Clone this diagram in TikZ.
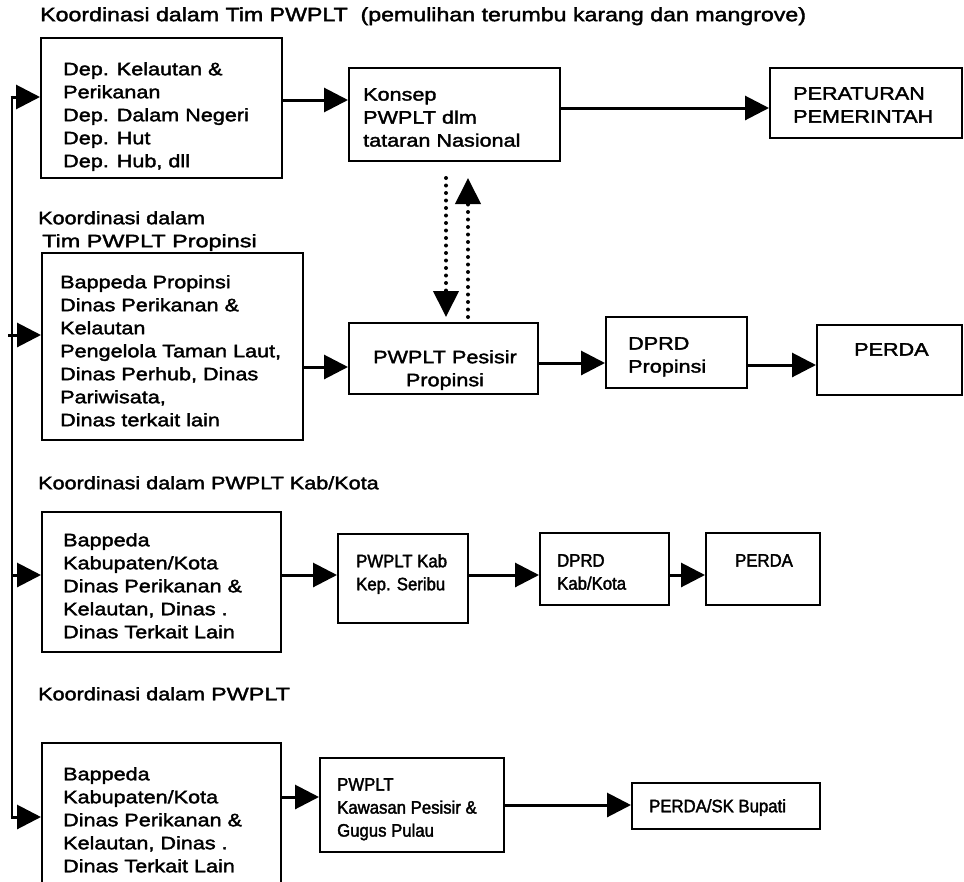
\documentclass[tikz,border=0pt]{standalone}
\usepackage{fontspec}
\newfontfamily\fA[FakeStretch=1.2,FakeBold=2]{Liberation Sans}
\newfontfamily\fB[FakeStretch=0.93,FakeBold=2]{Liberation Sans}
\newfontfamily\fC[FakeStretch=1.3,FakeBold=2]{Liberation Sans}
\usetikzlibrary{arrows.meta}
\tikzset{
  box/.style={draw, line width=2pt, inner sep=0pt, rectangle},
  txt/.style={anchor=north west, inner sep=0pt, align=left, font=\fA\fontsize{18}{23}\selectfont},
  ntxt/.style={anchor=north west, inner sep=0pt, align=left, font=\fB\fontsize{18}{23}\selectfont},
  ctxt/.style={anchor=north, inner sep=0pt, align=center, font=\fA\fontsize{18}{23}\selectfont},
  ttl/.style={anchor=north west, inner sep=0pt, align=left, font=\fA\fontsize{19.3}{24}\selectfont},
  arr/.style={line width=3pt, -{Triangle[length=24pt,width=24pt]}},
  spine/.style={line width=2.6pt},
  dotarr/.style={line width=4pt, line cap=round, dash pattern=on 0pt off 7.5pt, -{Triangle[length=26pt,width=25pt]}}
}
\begin{document}
\begin{tikzpicture}[x=1pt,y=-1pt]
\useasboundingbox (0,0) rectangle (964,881);
\clip (0,0) rectangle (964,881);
% boxes
\node[box, minimum width=241pt, minimum height=140pt] (b1) at (161.5,108) {};
\node[box, minimum width=211pt, minimum height=93pt] (konsep) at (454.5,114.5) {};
\node[box, minimum width=192pt, minimum height=70pt] (pp) at (866,103) {};
\node[box, minimum width=261pt, minimum height=187pt] (b2) at (172.5,346.5) {};
\node[box, minimum width=189pt, minimum height=71pt] (pes) at (443.5,358.5) {};
\node[box, minimum width=141pt, minimum height=71pt] (dprd1) at (676.5,352.5) {};
\node[box, minimum width=145pt, minimum height=70pt] (perda1) at (889.5,360) {};
\node[box, minimum width=239pt, minimum height=140pt] (b3) at (161.5,582) {};
\node[box, minimum width=130pt, minimum height=89pt] (kab) at (403,578.5) {};
\node[box, minimum width=129pt, minimum height=72pt] (dprd2) at (604.5,569) {};
\node[box, minimum width=114pt, minimum height=72pt] (perda2) at (763,569) {};
\node[box, minimum width=239pt, minimum height=162pt] (b4) at (161.5,824) {};
\node[box, minimum width=184pt, minimum height=94pt] (kaw) at (412,805) {};
\node[box, minimum width=188pt, minimum height=46pt] (sk) at (726,806) {};
% texts
\node[ttl] (title) at (40,7) {Koordinasi dalam Tim PWPLT\ \ (pemulihan terumbu karang dan mangrove)};
\node[txt] (t1) at (63,62) {Dep. Kelautan \&\\Perikanan\\Dep. Dalam Negeri\\Dep. Hut\\Dep. Hub, dll};
\node[txt] (tk) at (363,88) {Konsep\\PWPLT dlm\\tataran Nasional};
\node[txt] (tpp) at (793,87) {PERATURAN\\PEMERINTAH};
\node[txt] (h1) at (38,211) {Koordinasi dalam\\\hspace*{4pt}{\fC Tim PWPLT Propinsi}};
\node[txt] (t2) at (60,275) {Bappeda Propinsi\\Dinas Perikanan \&\\Kelautan\\Pengelola Taman Laut,\\Dinas Perhub, Dinas\\Pariwisata,\\Dinas terkait lain};
\node[ctxt] (tpes) at (445,350) {PWPLT Pesisir\\Propinsi};
\node[txt] (td1) at (628,337) {DPRD\\Propinsi};
\node[txt] (tpd1) at (854,343) {PERDA};
\node[txt] (h2) at (38,476) {Koordinasi dalam PWPLT Kab/Kota};
\node[txt] (t3) at (63,533) {Bappeda\\Kabupaten/Kota\\Dinas Perikanan \&\\Kelautan, Dinas .\\Dinas Terkait Lain};
\node[ntxt] (tkab) at (356,554) {PWPLT Kab\\Kep. Seribu};
\node[ntxt] (td2) at (557,554) {DPRD\\Kab/Kota};
\node[ntxt] (tpd2) at (735,554) {PERDA};
\node[txt] (h3) at (38,687) {Koordinasi dalam {\fC PWPLT}};
\node[txt] (t4) at (63,767) {Bappeda\\Kabupaten/Kota\\Dinas Perikanan \&\\Kelautan, Dinas .\\Dinas Terkait Lain};
\node[ntxt] (tkaw) at (337,778) {PWPLT\\Kawasan Pesisir \&\\Gugus Pulau};
\node[ntxt] (tsk) at (649,799) {PERDA/SK Bupati};
% spine
\coordinate (s1) at (12,97);
\coordinate (s2) at (12,335);
\coordinate (s3) at (12,575);
\coordinate (s4) at (12,817);
\draw[spine] ([yshift=1.3pt]s1) -- ([yshift=-1.3pt]s4);
\draw[arr] ([xshift=-1.3pt]s1) -- (s1 -| b1.west);
\draw[arr] ([xshift=-4pt]s2) -- (s2 -| b2.west);
\draw[arr] (s3) -- (s3 -| b3.west);
\draw[arr] ([xshift=-1.3pt]s4) -- (s4 -| b4.west);
% flow arrows
\draw[arr] (b1.east |- 0,100) -- (konsep.west |- 0,100);
\draw[arr] (konsep.east |- 0,108) -- (pp.west |- 0,108);
\draw[arr] (b2.east |- 0,367) -- (pes.west |- 0,367);
\draw[arr] (pes.east |- 0,363) -- (dprd1.west |- 0,363);
\draw[arr] (dprd1.east |- 0,365) -- (perda1.west |- 0,365);
\draw[arr] (b3.east |- 0,575) -- (kab.west |- 0,575);
\draw[arr] (kab.east |- 0,575) -- (dprd2.west |- 0,575);
\draw[arr] (dprd2.east |- 0,575) -- (perda2.west |- 0,575);
\draw[arr] (b4.east |- 0,797) -- (kaw.west |- 0,797);
\draw[arr] (kaw.east |- 0,805) -- (sk.west |- 0,805);
% dotted arrows
\coordinate (d1a) at (446,178);
\coordinate (d1b) at (446,317);
\coordinate (d2a) at (468,317);
\coordinate (d2b) at (468,178);
\draw[dotarr] (d1a) -- (d1b);
\draw[dotarr] (d2a) -- (d2b);
\end{tikzpicture}
\end{document}
